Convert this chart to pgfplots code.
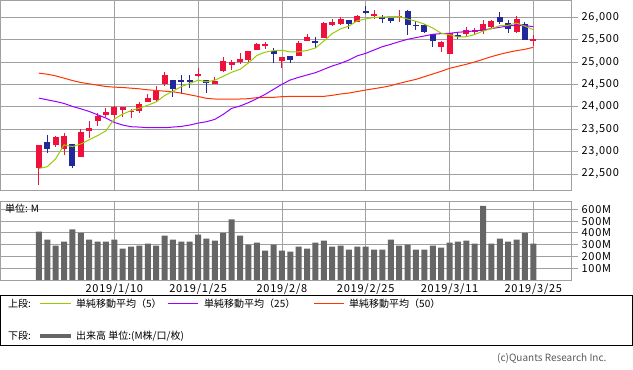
\documentclass[border=0pt]{standalone}
\usepackage{pgfplots}
\pgfplotsset{compat=1.18}
\usepackage{pgfplotstable}
\usepackage{fontspec}
\setmainfont{Noto Sans CJK JP}
\newfontfamily\spacedfont[LetterSpace=7]{Noto Sans CJK JP}
\definecolor{upc}{HTML}{F0103C}
\definecolor{dnc}{HTML}{22289A}
\definecolor{ma5}{HTML}{99CC00}
\definecolor{ma25}{HTML}{9900FF}
\definecolor{ma50}{HTML}{FF3300}
\definecolor{gridc}{HTML}{A0A0A0}
\definecolor{volc}{HTML}{666666}
\pgfplotstableread{
i o h l c v s5 s25 s50
0 22629 23138 22250 23138 411 22623 24195 24752
1 23213 23380 22970 23062 343 22663 24157 24729
2 23153 23340 23098 23327 291 22840 24120 24692
3 23050 23420 22920 23346 326 23151 24076 24640
4 23176 23176 22630 22686 429 23112 24009 24588
5 22880 23500 22880 23433 400 23171 23957 24544
6 23450 23690 23300 23531 343 23265 23897 24514
7 23680 23870 23565 23787 326 23357 23823 24484
8 23815 23985 23770 23879 326 23464 23749 24454
9 23810 24010 23710 24002 343 23727 23652 24440
10 23925 24000 23780 23996 266 23839 23593 24432
11 23885 23960 23740 23910 283 23915 23556 24417
12 23900 24110 23860 24066 291 23971 23548 24402
13 24115 24285 24110 24207 309 24036 23533 24380
14 24145 24470 24105 24370 291 24110 23533 24365
15 24515 24770 24470 24706 377 24252 23533 24350
16 24605 24605 24230 24404 343 24351 23548 24336
17 24595 24710 24290 24570 326 24453 23563 24306
18 24600 24715 24410 24553 326 24522 23593 24269
19 24680 24863 24663 24737 386 24595 23637 24232
20 24600 24600 24320 24528 351 24560 23668 24190
21 24500 24663 24499 24585 334 24595 23720 24175
22 24805 25123 24789 25015 400 24683 23832 24175
23 24945 25049 24826 25000 514 24772 23966 24175
24 25004 25212 24967 25064 377 24837 24018 24175
25 25050 25250 24975 25239 300 24980 24093 24182
26 25272 25435 25272 25412 317 25146 24182 24205
27 25368 25457 25294 25400 249 25221 24279 24212
28 25257 25316 24989 25170 300 25255 24391 24212
29 25027 25116 24878 25106 249 25263 24503 24227
30 25146 25146 24989 25040 240 25226 24600 24234
31 25146 25472 25146 25426 283 25229 24659 24234
32 25480 25628 25480 25550 266 25260 24711 24234
33 25472 25554 25316 25439 317 25314 24763 24234
34 25547 25896 25547 25883 334 25469 24838 24234
35 25829 25963 25807 25891 283 25637 24912 24257
36 25851 26000 25822 25960 291 25742 24972 24287
37 25941 25941 25740 25851 257 25804 25046 24309
38 25903 26052 25903 26040 283 25922 25140 24342
39 26141 26260 26082 26092 283 25964 25195 24376
40 26037 26163 25963 26070 257 25997 25270 24406
41 26000 26052 25881 25985 257 26004 25344 24436
42 25993 25993 25881 25916 343 26017 25397 24473
43 26012 26163 25896 26030 291 26016 25456 24525
44 26141 26163 25614 25820 300 25961 25508 24570
45 25837 25918 25718 25807 257 25911 25546 24614
46 25829 25851 25643 25673 257 25848 25583 24674
47 25636 25636 25346 25473 291 25760 25620 24733
48 25346 25465 25220 25450 274 25645 25635 24793
49 25190 25643 25190 25651 317 25611 25642 24860
50 25606 25658 25517 25562 326 25561 25665 24905
51 25621 25784 25591 25710 334 25566 25680 24950
52 25681 25762 25621 25715 309 25614 25695 25002
53 25695 25941 25621 25849 629 25693 25717 25061
54 25777 25941 25770 25914 309 25746 25747 25121
55 26015 26111 25851 25887 351 25813 25777 25173
56 25866 25941 25658 25746 326 25821 25806 25218
57 25673 26037 25658 25963 343 25872 25821 25255
58 25851 25896 25502 25502 400 25802 25814 25285
59 25490 25606 25369 25517 309 25723 25791 25329
}\data
\pgfplotsset{
  panel/.style={
    scale only axis,
    width=571.2pt,
    xmin=-4.58, xmax=63.58,
    axis line style={gridc, line width=0.8pt},
    grid=major,
    major grid style={gridc, line width=0.8pt},
    xtick={9,19,29,39,49,59},
    ytick pos=right,
    tick align=outside,
    major tick length=6.3pt,
    tick style={gridc, line width=0.8pt},
    xtick style={draw=none},
    yticklabel style={font=\spacedfont\fontsize{11}{12}\selectfont},
    scaled y ticks=false,
    /pgf/number format/assume math mode=true,
  },
  cand/.style={draw=none, mark=none, forget plot,
    error bars/.cd, y dir=both, y explicit, error mark=none,
    error bar style={draw=#1, line width=1pt}},
  body/.style={draw=none, mark=none, forget plot,
    error bars/.cd, y dir=both, y explicit, error mark=none,
    error bar style={draw=#1, line width=6pt, line cap=butt}},
}
\begin{document}
\begin{tikzpicture}
\path[use as bounding box] (0pt,0pt) rectangle (633pt,370pt);
% main panel
\begin{axis}[panel,
  at={(0.5pt,179.7pt)}, anchor=south west,
  height=189.8pt,
  ymin=22136, ymax=26375,
  ytick={22500,23000,23500,24000,24500,25000,25500,26000},
  yticklabel style={/pgf/number format/1000 sep={,}},
  xticklabels={},
]
\addplot[x filter/.expression={\thisrow{c}>=\thisrow{o} ? x : nan}, cand=upc]
  table[x=i, y expr={(\thisrow{h}+\thisrow{l})/2}, y error expr={(\thisrow{h}-\thisrow{l})/2}] {\data};
\addplot[x filter/.expression={\thisrow{c}>=\thisrow{o} ? x : nan}, body=upc]
  table[x=i, y expr={(\thisrow{o}+\thisrow{c})/2}, y error expr={abs(\thisrow{c}-\thisrow{o})/2}] {\data};
\addplot[x filter/.expression={\thisrow{c}<\thisrow{o} ? x : nan}, cand=dnc]
  table[x=i, y expr={(\thisrow{h}+\thisrow{l})/2}, y error expr={(\thisrow{h}-\thisrow{l})/2}] {\data};
\addplot[x filter/.expression={\thisrow{c}<\thisrow{o} ? x : nan}, body=dnc]
  table[x=i, y expr={(\thisrow{o}+\thisrow{c})/2}, y error expr={abs(\thisrow{c}-\thisrow{o})/2}] {\data};
\addplot[ma50, line width=1pt, mark=none] table[x=i, y=s50] {\data};
\addplot[ma25, line width=1pt, mark=none] table[x=i, y=s25] {\data};
\addplot[ma5, line width=1pt, mark=none] table[x=i, y=s5] {\data};
\end{axis}
% volume panel
\begin{axis}[panel,
  at={(0.5pt,90pt)}, anchor=south west,
  height=78.3pt,
  ymin=0, ymax=664.6,
  ytick={100,200,300,400,500,600},
  yticklabels={100M,200M,300M,400M,500M,600M},
  xticklabels={2019/1/10,2019/1/25,2019/2/8,2019/2/25,2019/3/11,2019/3/25},
  xticklabel style={font=\spacedfont\fontsize{11}{12}\selectfont, yshift=6pt},
]
\addplot[ybar, bar width=6pt, bar shift=0pt, fill=volc, draw=none] table[x=i, y=v] {\data};
\end{axis}
\node[anchor=west, inner sep=0pt, font=\fontsize{10}{11}\selectfont] at (5pt,161pt) {単位: M};
% legend
\draw[black, line width=1pt] (0.5pt,24pt) rectangle (632.5pt,74.7pt);
\begin{scope}[every node/.style={anchor=west, inner sep=0pt, font=\fontsize{10}{11}\selectfont}]
\node at (8pt,66pt) {上段:};
\draw[ma5, line width=1pt] (40pt,66pt) -- (71pt,66pt);
\node at (76pt,66pt) {単純移動平均（5）};
\draw[ma25, line width=1pt] (168pt,66pt) -- (198pt,66pt);
\node at (204pt,66pt) {単純移動平均（25）};
\draw[ma50, line width=1pt] (314pt,66pt) -- (344pt,66pt);
\node at (349pt,66pt) {単純移動平均（50）};
\node at (8pt,34pt) {下段:};
\draw[volc, line width=4pt] (40pt,34pt) -- (71pt,34pt);
\node at (76pt,34pt) {出来高 単位:(M株/口/枚)};
\end{scope}
\node[anchor=west, inner sep=0pt, text=black!65, font=\fontsize{10}{11}\selectfont] at (497pt,11.3pt) {(c)Quants Research Inc.};
\end{tikzpicture}
\end{document}
